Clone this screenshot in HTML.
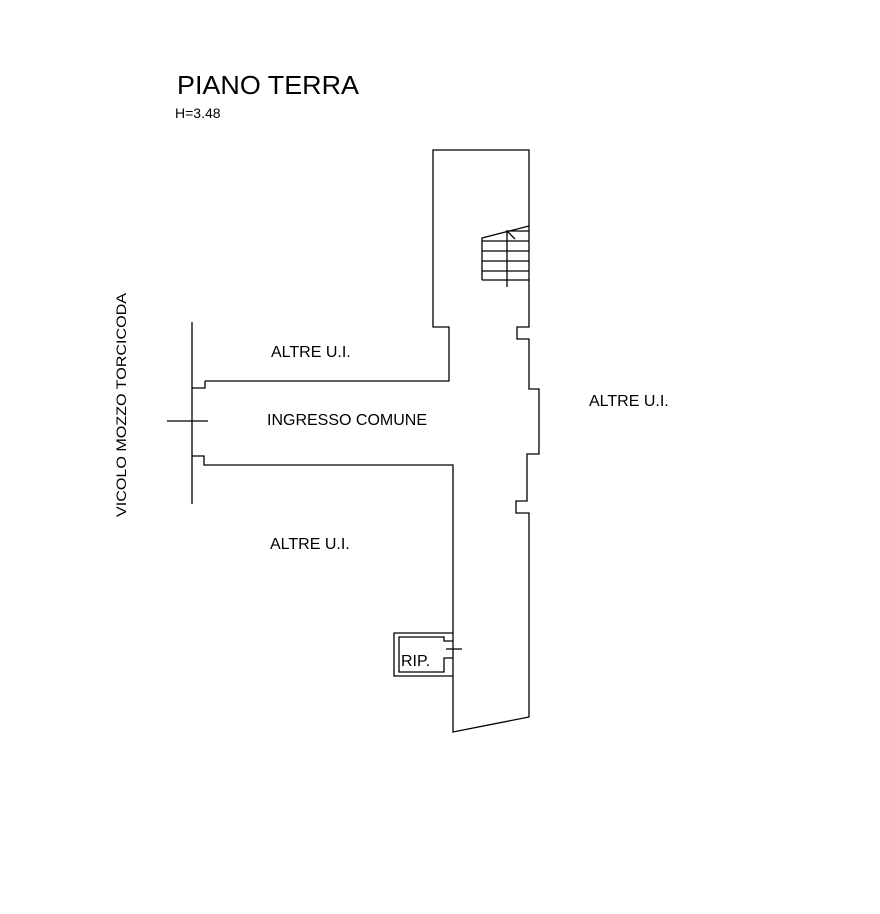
<!DOCTYPE html>
<html><head><meta charset="utf-8"><style>
html,body{margin:0;padding:0;background:#fff;}
svg{display:block;}
text{font-family:"Liberation Sans",Arial,sans-serif;fill:#000;}
</style></head><body>
<svg width="880" height="914" viewBox="0 0 880 914" xmlns="http://www.w3.org/2000/svg">
<g fill="none" stroke="#000" stroke-width="1.3">
<polyline points="205,381 449,381 449,327 433,327 433,150 529,150 529,327 517,327 517,339 529,339 529,389 539,389 539,454 527,454 527,501 516,501 516,513 529,513 529,717 453,732 453,465 204,465 204,456 192,456"/>
<polyline points="192,388 205,388 205,381"/>
<line x1="192" y1="322" x2="192" y2="504"/>
<line x1="167" y1="421" x2="208" y2="421"/>
<polyline points="482,280 482,238 529,226"/>
<line x1="506" y1="231" x2="529" y2="231"/>
<line x1="482" y1="241" x2="529" y2="241"/>
<line x1="482" y1="251" x2="529" y2="251"/>
<line x1="482" y1="261" x2="529" y2="261"/>
<line x1="482" y1="271" x2="529" y2="271"/>
<line x1="482" y1="280" x2="529" y2="280"/>
<line x1="507" y1="231" x2="507" y2="287"/>
<line x1="507" y1="231" x2="515" y2="239"/>
<polyline points="453,633 394,633 394,676 453,676"/>
<polyline points="453,641 444,641 444,637 399,637 399,672 444,672 444,658 453,658"/>
<line x1="446" y1="649" x2="462" y2="649"/>
</g>
<text x="177" y="94" font-size="26" textLength="182" lengthAdjust="spacingAndGlyphs">PIANO TERRA</text>
<text x="175" y="118" font-size="14">H=3.48</text>
<text x="271" y="357" font-size="16">ALTRE U.I.</text>
<text x="267" y="425" font-size="16">INGRESSO COMUNE</text>
<text x="589" y="406" font-size="16">ALTRE U.I.</text>
<text x="270" y="549" font-size="16">ALTRE U.I.</text>
<text x="401" y="666" font-size="16">RIP.</text>
<text transform="translate(126,517) rotate(-90)" font-size="14" textLength="224" lengthAdjust="spacingAndGlyphs">VICOLO MOZZO TORCICODA</text>
</svg>
</body></html>
